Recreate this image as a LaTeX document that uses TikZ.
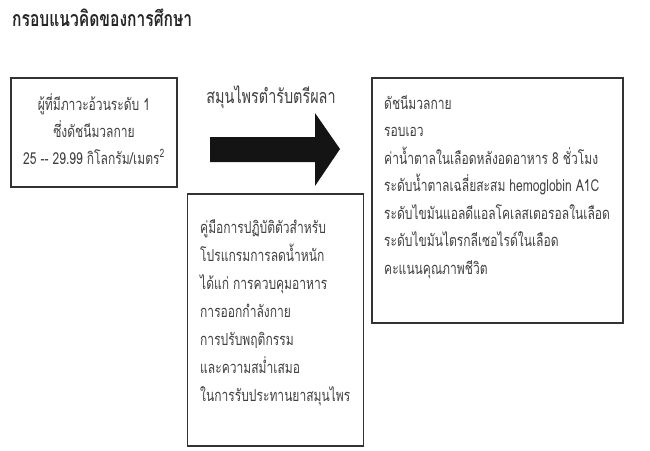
\documentclass[tikz,border=0pt]{standalone}
\usepackage{fontspec}
\newfontfamily\thaifont[Script=Thai,FakeStretch=0.73]{Loma}
\usetikzlibrary{positioning}
\definecolor{inkgray}{HTML}{404040}
\definecolor{linegray}{HTML}{333333}

\begin{document}
\begin{tikzpicture}[x=1pt,y=-1pt,
	box/.style={draw=linegray,line width=1.3pt,inner sep=0pt},
	txt/.style={text=inkgray,inner sep=0pt,font=\thaifont\fontsize{16.5}{27.5}\selectfont}]
	\useasboundingbox (0,0) rectangle (650,450);
	\node[anchor=base west,inner sep=0pt,text=black!85,font=\thaifont\bfseries\fontsize{21.4}{24}\selectfont] (title) at (12,26) {กรอบแนวคิดของการศึกษา};
	% boxes
	\node[box,minimum width=166pt,minimum height=109pt] (sample) at (94,132.5) {};
	\node[box,minimum width=251pt,minimum height=245pt] (outcome) at (497.5,200.5) {};
	\node[box,minimum width=176pt,minimum height=252pt] (manual) at (275.5,320) {};
	\node[txt,align=center,anchor=base,font=\thaifont\fontsize{16.5}{27}\selectfont] (sampletext) at (94,164)
		{ผู้ที่มีภาวะอ้วนระดับ 1\\ซึ่งดัชนีมวลกาย\\25 -- 29.99 กิโลกรัม/เมตร\textsuperscript{2}};
	\node[txt,align=left,anchor=base west] (outcometext) at (384,274)
		{ดัชนีมวลกาย\\รอบเอว\\ค่าน้ำตาลในเลือดหลังอดอาหาร 8 ชั่วโมง\\ระดับน้ำตาลเฉลี่ยสะสม hemoglobin A1C\\ระดับไขมันแอลดีแอลโคเลสเตอรอลในเลือด\\ระดับไขมันไตรกลีเซอไรด์ในเลือด\\คะแนนคุณภาพชีวิต};
	\node[txt,align=left,anchor=base west,font=\thaifont\fontsize{16.5}{28}\selectfont] (manualtext) at (200,401)
		{คู่มือการปฏิบัติตัวสำหรับ\\โปรแกรมการลดน้ำหนัก\\ได้แก่ การควบคุมอาหาร\\การออกกำลังกาย\\การปรับพฤติกรรม\\และความสม่ำเสมอ\\ในการรับประทานยาสมุนไพร};
	% block arrow
	\node[txt,anchor=base,font=\thaifont\fontsize{19.7}{22}\selectfont] (herb) at (271,103) {สมุนไพรตำรับตรีผลา};
	\fill[black!92] (210,137) -- (315,137) -- (315,113) -- (340,149) -- (315,186) -- (315,162) -- (210,162) -- cycle;
\end{tikzpicture}
\end{document}
